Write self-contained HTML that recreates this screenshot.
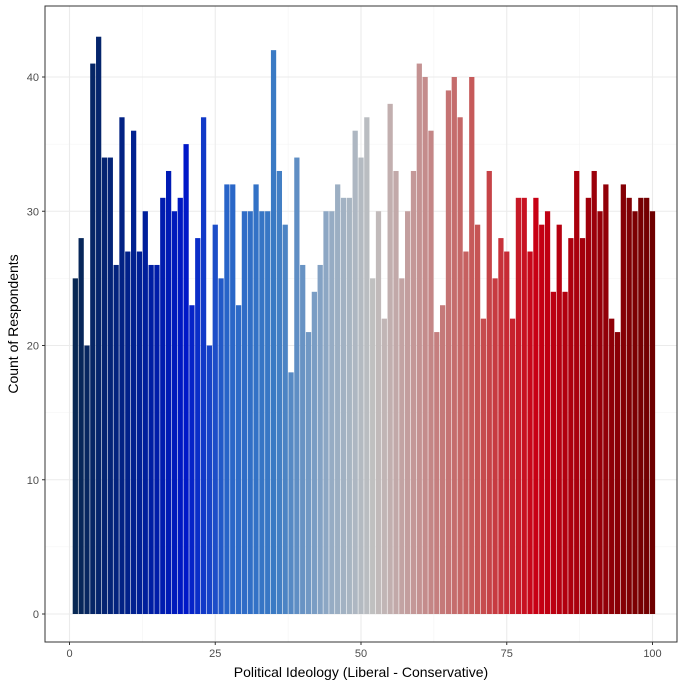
<!DOCTYPE html>
<html><head><meta charset="utf-8"><style>
body{margin:0;background:#fff;font-family:"Liberation Sans",sans-serif;}
svg text{font-family:"Liberation Sans",sans-serif;}
</style></head><body>
<svg id="chart" width="691" height="686"></svg>
<script>
const ideology = Array.from({length:100},(_,i)=>i+1);
const counts = [25,28,20,41,43,34,34,26,37,27,36,27,30,26,26,31,33,30,31,35,
23,28,37,20,29,25,32,32,23,30,30,32,30,30,42,33,29,18,34,26,
21,24,26,30,30,32,31,31,36,34,37,25,30,22,38,33,25,30,33,41,
40,36,21,23,39,40,37,27,40,29,22,33,25,28,27,22,31,31,27,31,
29,30,24,29,24,28,33,28,31,33,30,32,22,21,32,31,30,31,31,30];
const xTicks = [0,25,50,75,100];
const yTicks = [0,10,20,30,40];
const NS="http://www.w3.org/2000/svg";
const svg=document.getElementById('chart');
const L=45,R=677,T=6,B=642;
const x=v=>69.5+v*5.83;
const y=v=>614-v*13.425;
function mk(tag,a){const e=document.createElementNS(NS,tag);for(const k in a)e.setAttribute(k,a[k]);svg.appendChild(e);return e;}
const stops=[[1,[8,40,84]],[12,[0,32,150]],[20,[0,24,200]],[27,[40,100,200]],[35,[58,122,196]],[45,[150,172,196]],[52,[192,192,192]],[60,[196,146,146]],[70,[198,84,84]],[80,[200,0,20]],[100,[110,0,0]]];
function col(v){for(let i=0;i<stops.length-1;i++){const[a,ca]=stops[i],[b,cb]=stops[i+1];if(v<=b){const t=(v-a)/(b-a);return'rgb('+ca.map((c,j)=>Math.round(c+(cb[j]-c)*t)).join(',')+')';}}return'rgb(110,0,0)';}
let bg=mk('rect',{x:L,y:T,width:R-L,height:B-T,fill:'#fff'});


[5,15,25,35].forEach(v=>{const g=mk('line',{x1:L,x2:R,y1:y(v),y2:y(v),stroke:'#f3f3f3','stroke-width':0.6});});
[12.5,37.5,62.5,87.5].forEach(v=>{const g=mk('line',{x1:x(v),x2:x(v),y1:T,y2:B,stroke:'#f3f3f3','stroke-width':0.6});});
yTicks.forEach(v=>{const g=mk('line',{x1:L,x2:R,y1:y(v),y2:y(v),stroke:'#ebebeb','stroke-width':1.1});});
xTicks.forEach(v=>{const g=mk('line',{x1:x(v),x2:x(v),y1:T,y2:B,stroke:'#ebebeb','stroke-width':1.1});});
ideology.forEach((v,i)=>{const w=5.83*0.9;const r=mk('rect',{x:x(v)-w/2,y:y(counts[i]),width:w,height:y(0)-y(counts[i]),fill:col(v)});

});
let bd=mk('rect',{x:L,y:T,width:R-L,height:B-T,fill:'none',stroke:'#333','stroke-width':1});


yTicks.forEach(v=>{mk('line',{x1:L-3,x2:L,y1:y(v),y2:y(v),stroke:'#333'});const t=mk('text',{x:L-6,y:y(v)+4,'text-anchor':'end','font-size':11,fill:'#4d4d4d'});t.textContent=v;

});
xTicks.forEach(v=>{mk('line',{x1:x(v),x2:x(v),y1:B,y2:B+3,stroke:'#333'});const t=mk('text',{x:x(v),y:B+15,'text-anchor':'middle','font-size':11,fill:'#4d4d4d'});t.textContent=v;

});
let xt=mk('text',{x:(L+R)/2,y:677,'text-anchor':'middle','font-size':14,fill:'#000'});xt.textContent='Political Ideology (Liberal - Conservative)';


let yt=mk('text',{x:0,y:0,'text-anchor':'middle','font-size':14,fill:'#000',transform:'translate(18,324) rotate(-90)'});yt.textContent='Count of Respondents';


</script>
</body></html>
